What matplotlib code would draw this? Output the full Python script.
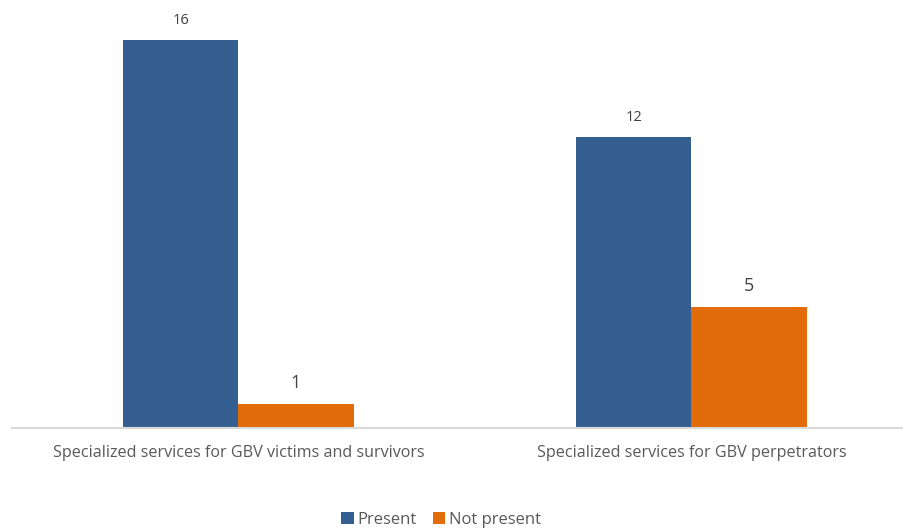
import matplotlib.pyplot as plt
import numpy as np

plt.rcParams['font.family'] = ['Open Sans', 'DejaVu Sans']

categories = ['Specialized services for GBV victims and survivors',
              'Specialized services for GBV perpetrators']
present = [16, 12]
not_present = [1, 5]

blue = '#365F91'
orange = '#E36C0A'

fig = plt.figure(figsize=(9.04, 5.30), dpi=100)
ax = fig.add_axes([12 / 904, 102 / 530, 906 / 904, 412 / 530])

x = np.arange(len(categories))
w = 0.254
b1 = ax.bar(x - w / 2, present, w, color=blue, label='Present')
b2 = ax.bar(x + w / 2, not_present, w, color=orange, label='Not present')

for r, v in zip(b1, present):
    ax.text(r.get_x() + r.get_width() / 2, v + 0.5, str(v), ha='center', va='bottom',
            fontsize=10.5, color='#404040')
for r, v in zip(b2, not_present):
    ax.text(r.get_x() + r.get_width() / 2, v + 0.5, str(v), ha='center', va='bottom',
            fontsize=13, color='#404040')

ax.set_xlim(-0.5, 1.5)
ax.set_ylim(0, 17)
ax.set_xticks(x)
ax.set_xticklabels(categories, fontsize=11.6, color='#595959')
ax.tick_params(axis='x', length=0, pad=12)
ax.set_yticks([])
for s in ['top', 'right', 'left']:
    ax.spines[s].set_visible(False)
ax.spines['bottom'].set_color('#D9D9D9')
ax.spines['bottom'].set_linewidth(1.5)

fig.legend(loc='center', bbox_to_anchor=(441 / 904, 10 / 530), ncol=2, frameon=False,
           fontsize=12, handlelength=0.75, handleheight=0.75, handletextpad=0.2,
           columnspacing=1.0, labelcolor='#595959')

fig.savefig('out.png', dpi=100)
